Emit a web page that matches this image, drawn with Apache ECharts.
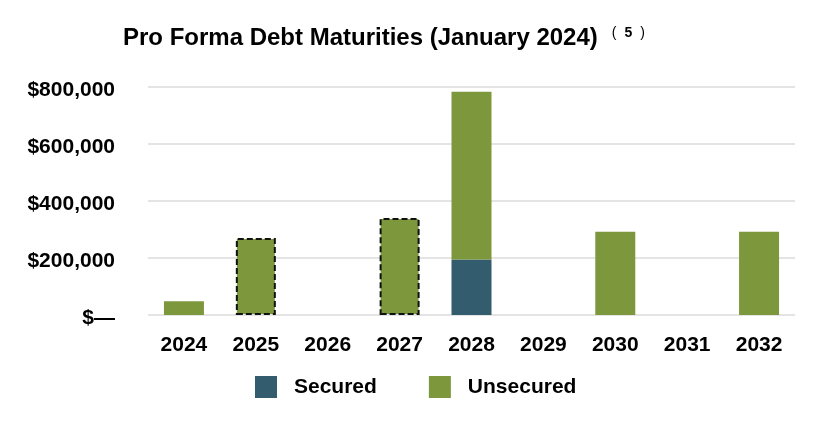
<!DOCTYPE html>
<html>
<head>
<meta charset="utf-8">
<script src="https://cdn.jsdelivr.net/npm/echarts@6/dist/echarts.min.js"></script>
<style>
html,body{margin:0;padding:0;background:#fff;}
#chart{width:824px;height:422px;}
</style>
</head>
<body>
<div id="chart"></div>
<script>
const years = ['2024','2025','2026','2027','2028','2029','2030','2031','2032'];
const secured = [0, 0, 0, 0, 195000, 0, 0, 0, 0];
const unsecured = [48000, 270000, 0, 340000, 588000, 0, 292000, 0, 292000];
const dashedYears = ['2025','2027'];
const yTicks = [0, 200000, 400000, 600000, 800000];

const green = '#7D983C';
const blue = '#335D6F';
const font = 'Liberation Sans, Arial, sans-serif';

const chart = echarts.init(document.getElementById('chart'));
chart.setOption({
  animation: false,
  title: {
    text: '{m|Pro Forma Debt Maturities (January 2024)}{p|(}{d|5}{q|)}',
    left: 123, top: 26, padding: 0,
    textStyle: {
      rich: {
        m: {fontFamily: font, fontWeight: 'bold', fontSize: 24, color: '#000'},
        p: {fontFamily: font, fontWeight: 'normal', fontSize: 14, color: '#000', verticalAlign: 'top', padding: [0,0,10,14]},
        d: {fontFamily: font, fontWeight: 'bold', fontSize: 14, color: '#000', verticalAlign: 'top', padding: [0,8,10,8]},
        q: {fontFamily: font, fontWeight: 'normal', fontSize: 14, color: '#000', verticalAlign: 'top', padding: [0,0,10,0]}
      }
    }
  },
  legend: {
    left: 255, top: 376, padding: 0,
    itemWidth: 22, itemHeight: 22, itemGap: 52,
    icon: 'rect',
    data: ['Secured', 'Unsecured'],
    textStyle: {fontFamily: font, fontWeight: 'bold', fontSize: 21, color: '#000', padding: [0,0,0,12]}
  },
  grid: {left: 148, right: 29, top: 87, bottom: 107, containLabel: false},
  xAxis: {
    type: 'category', data: years,
    axisLine: {show: false}, axisTick: {show: false},
    axisLabel: {fontFamily: font, fontWeight: 'bold', fontSize: 21, color: '#000', margin: 20}
  },
  yAxis: {
    type: 'value', min: yTicks[0], max: yTicks[yTicks.length-1], interval: yTicks[1]-yTicks[0],
    axisLine: {show: false}, axisTick: {show: false},
    splitLine: {lineStyle: {color: '#E4E4E4', width: 2}},
    axisLabel: {
      margin: 33,
      formatter: v => '{a|' + (v === 0 ? '$—' : '$' + v.toLocaleString('en-US')) + '}',
      rich: {a: {fontFamily: font, fontWeight: 'bold', fontSize: 21, color: '#000', padding: [6, 0, 0, 0]}}
    }
  },
  series: [
    {name: 'Secured', type: 'bar', stack: 'd', barWidth: 40, itemStyle: {color: blue},
     data: secured},
    {name: 'Unsecured', type: 'bar', stack: 'd', barWidth: 40, itemStyle: {color: green},
     data: unsecured.map((v, i) => dashedYears.includes(years[i])
       ? {value: v, itemStyle: {borderColor: '#111', borderWidth: 2, borderType: [6, 3]}}
       : v)}
  ]
});
</script>
</body>
</html>
